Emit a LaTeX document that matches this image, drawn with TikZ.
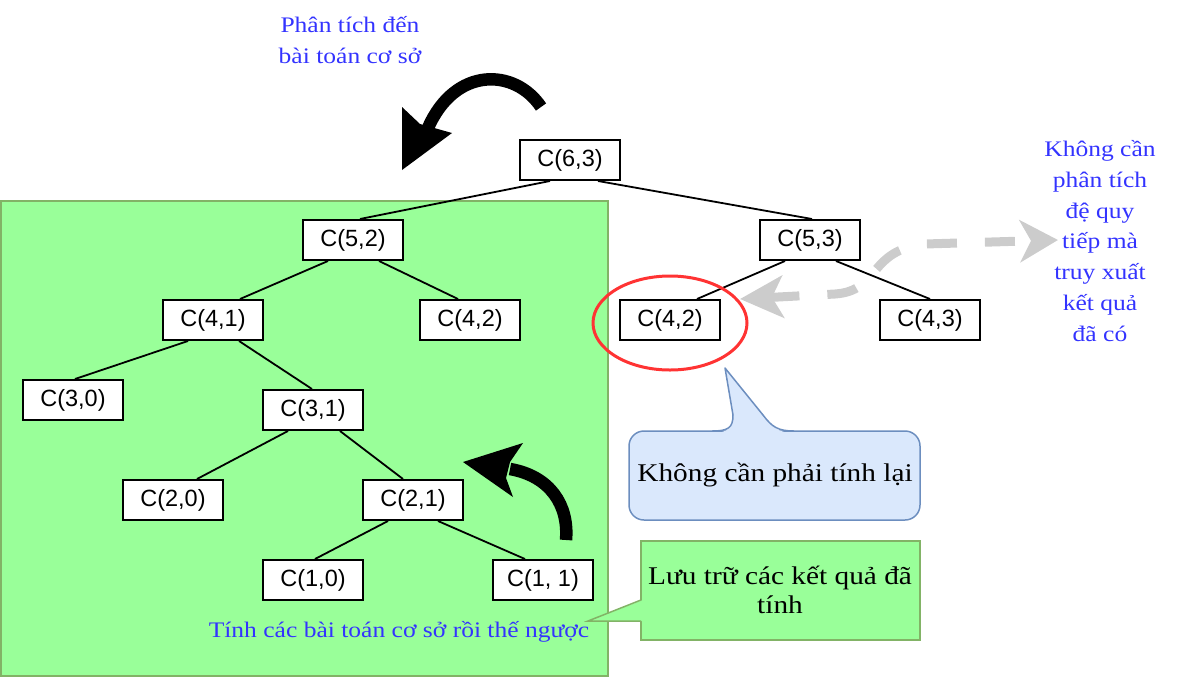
\documentclass[tikz,border=0pt]{standalone}
\usepackage{fontspec}
\usetikzlibrary{arrows.meta,shapes.geometric}
\newfontfamily\vnserif{Liberation Serif}[FakeStretch=1.15]
\newfontfamily\nodesans{Liberation Sans}
\definecolor{vblue}{HTML}{3333FF}
\definecolor{gfill}{HTML}{99FF99}
\definecolor{gline}{HTML}{82B366}
\definecolor{bfill}{HTML}{DAE8FC}
\definecolor{bline}{HTML}{6C8EBF}
\definecolor{redc}{HTML}{FF3333}
\definecolor{grayc}{HTML}{CCCCCC}
\begin{document}
\begin{tikzpicture}[x=1pt,y=-1pt,
  cbox/.style={draw=black, line width=2pt, fill=white, minimum width=100pt, minimum height=40pt, inner sep=0pt, font=\nodesans\fontsize{23.5}{26}\selectfont},
  tedge/.style={line width=1.8pt},
  bluetxt/.style={text=vblue, align=center, font=\vnserif\fontsize{22.2}{30.7}\selectfont, inner sep=0pt},
  blacktxt/.style={text=black, align=center, font=\vnserif\fontsize{25.5}{29}\selectfont, inner sep=0pt},
  curvarrow/.style={line width=12.5pt, black},
  grayarrow/.style={draw=grayc, line width=9pt, dash pattern=on 30pt off 28pt,
     {Stealth[length=43pt,width=42pt,inset=11pt]}-{Stealth[length=38pt,width=42pt,inset=11pt]}}
]
\useasboundingbox (0,0) rectangle (1182,678);

% green area
\draw[fill=gfill, draw=gline, line width=2pt] (1,201) rectangle (608,676);

% tree nodes
\node[cbox] (n63) at (570,160) {C(6,3)};
\node[cbox] (n52) at (353,240) {C(5,2)};
\node[cbox] (n53) at (810,240) {C(5,3)};
\node[cbox] (n41) at (213,320) {C(4,1)};
\node[cbox] (n42a) at (470,320) {C(4,2)};
\node[cbox] (n42b) at (670,320) {C(4,2)};
\node[cbox] (n43) at (930,320) {C(4,3)};
\node[cbox] (n30) at (73,400) {C(3,0)};
\node[cbox] (n31) at (313,410) {C(3,1)};
\node[cbox] (n20) at (173,500) {C(2,0)};
\node[cbox] (n21) at (413,500) {C(2,1)};
\node[cbox] (n10) at (313,580) {C(1,0)};
\node[cbox] (n11) at (543,580) {C(1, 1)};

% tree edges
\draw[tedge] ([xshift=-20pt]n63.south) -- ([xshift=7pt]n52.north);
\draw[tedge] ([xshift=28pt]n63.south) -- ([xshift=2pt]n53.north);
\draw[tedge] ([xshift=-25pt]n52.south) -- ([xshift=27pt]n41.north);
\draw[tedge] ([xshift=26pt]n52.south) -- ([xshift=-12pt]n42a.north);
\draw[tedge] ([xshift=-25pt]n41.south) -- ([xshift=2pt]n30.north);
\draw[tedge] ([xshift=26pt]n41.south) -- ([xshift=-1pt]n31.north);
\draw[tedge] ([xshift=-25pt]n31.south) -- ([xshift=24pt]n20.north);
\draw[tedge] ([xshift=27pt]n31.south) -- ([xshift=-10pt]n21.north);
\draw[tedge] ([xshift=-25pt]n21.south) -- ([xshift=2pt]n10.north);
\draw[tedge] ([xshift=25pt]n21.south) -- ([xshift=-18pt]n11.north);
\draw[tedge] ([xshift=-25pt]n53.south) -- ([xshift=27pt]n42b.north);
\draw[tedge] ([xshift=26pt]n53.south) -- (n43.north);

% red ellipse
\node[draw=redc, line width=3pt, ellipse, minimum width=154pt, minimum height=94pt, inner sep=0pt] (ell) at (670,323) {};

% gray dashed double arrow
\coordinate (gA) at (740,299);
\coordinate (gB) at (1058,240);
\draw[grayarrow] (gA) -- (835,294) .. controls (880,291) and (868,250) .. (925,244) -- (gB);

% top black curved arrow
\draw[curvarrow] (541,107) .. controls (515,68) and (455,66) .. (428,128);
\fill[black] (402,170) -- (402,107) -- (420,124) -- (452,133) -- cycle;

% lower black curved arrow
\draw[curvarrow] (566,540) .. controls (569,505) and (550,476) .. (510,469);
\fill[black] (463,462) -- (523,443) -- (510,462) -- (506,478) -- (513,497) -- cycle;

% callout 1 (blue)
\draw[fill=bfill, draw=bline, line width=1.5pt, rounded corners=15pt] (629,431) rectangle (920,520);
\fill[bfill] (712,433) .. controls (728,433) and (733,428) .. (733,415) -- (725,368) -- (763,415) .. controls (772,427) and (778,433) .. (794,433) -- cycle;
\draw[bline, line width=1.5pt, line join=round] (712,431) .. controls (728,431) and (733,428) .. (733,415) -- (725,368) -- (763,415) .. controls (772,427) and (778,431) .. (794,431);
\node[blacktxt] (t1) at (775,475) {Không cần phải tính lại};

% callout 2 (green)
\draw[fill=gfill, draw=gline, line width=1.5pt] (641,541) rectangle (920,640);
\fill[gfill] (643,600) -- (588,621) -- (643,621) -- cycle;
\draw[gline, line width=1.5pt] (641,600) -- (588,621) -- (641,621);
\node[blacktxt] (t2) at (780,590) {Lưu trữ các kết quả đã\\tính};

% blue texts
\node[bluetxt] (tt) at (350,40) {Phân tích đến\\bài toán cơ sở};
\node[bluetxt] (tr) at (1100,241) {Không cần\\phân tích\\đệ quy\\tiếp mà\\truy xuất\\kết quả\\đã có};
\node[bluetxt] (tb) at (399,632) {Tính các bài toán cơ sở rồi thế ngược};
\end{tikzpicture}
\end{document}
